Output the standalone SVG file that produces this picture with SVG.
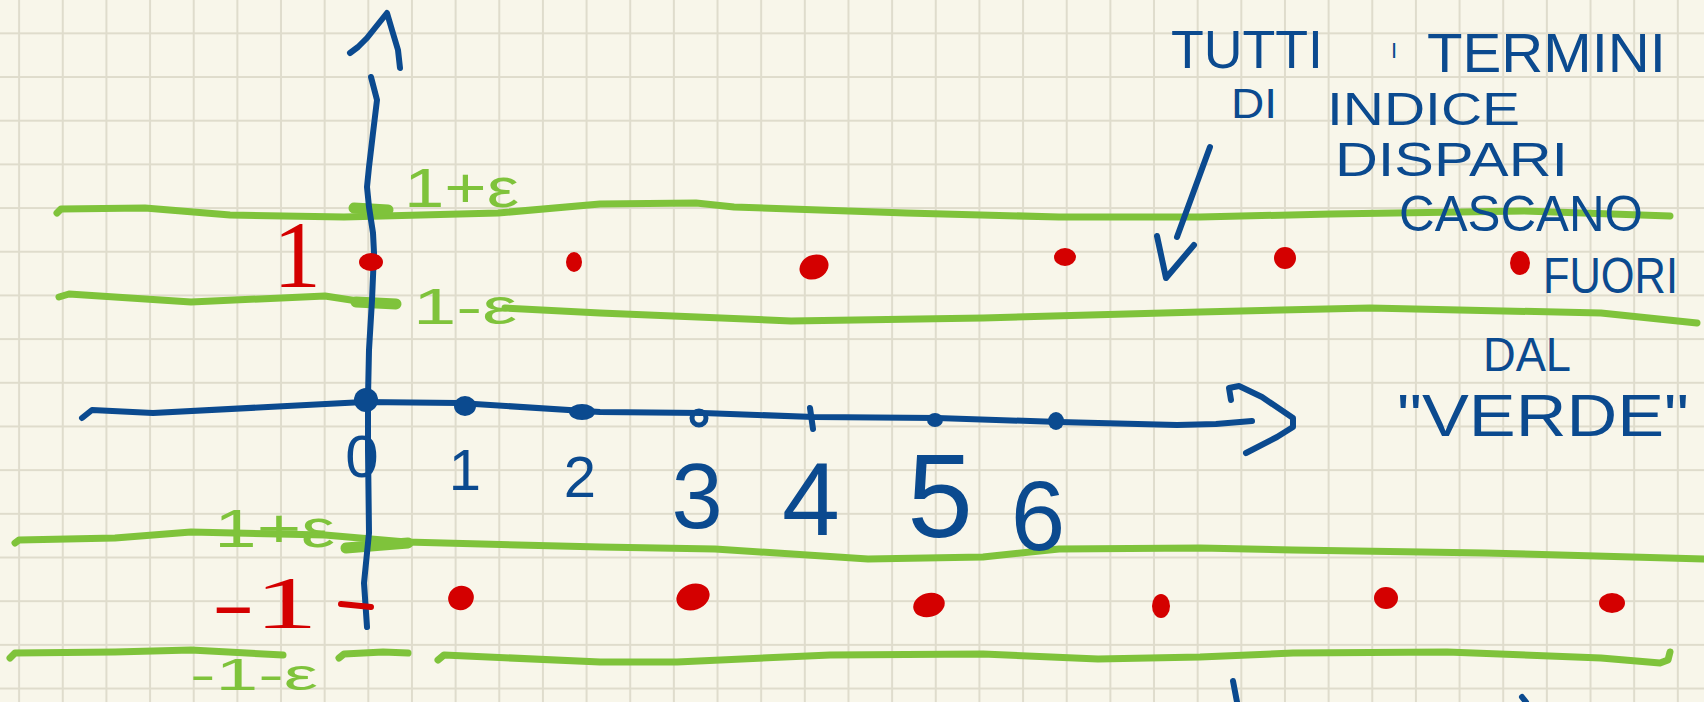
<svg xmlns="http://www.w3.org/2000/svg" width="1704" height="702" viewBox="0 0 1704 702">
<style>
.bl{fill:none;stroke:#0b4a8f;stroke-width:6;stroke-linecap:round;stroke-linejoin:round}
.gr{fill:none;stroke:#7fc33b;stroke-width:7;stroke-linecap:round;stroke-linejoin:round}
.grb{fill:none;stroke:#7fc33b;stroke-width:11;stroke-linecap:round}
.rd{fill:none;stroke:#d40000;stroke-width:6;stroke-linecap:round}
.rdot{fill:#d40000}
.bdot{fill:#0b4a8f}
.tb{fill:#0b4a8f;font-family:"Liberation Sans",Arial,sans-serif}
.tg{fill:#7fc33b;font-family:"Liberation Sans",Arial,sans-serif}
.tr{fill:#d40000;font-family:"Liberation Serif","Times New Roman",serif}
</style>
<defs>
<pattern id="grid" patternUnits="userSpaceOnUse" x="-2.7" y="11.5" width="43.65" height="43.68">
<path d="M21.8 0V43.68M0 21.8H43.65" stroke="#dfdccc" stroke-width="2" fill="none"/>
</pattern>
</defs>
<rect width="1704" height="702" fill="#f8f6ea"/>
<rect width="1704" height="702" fill="url(#grid)"/>

<g id="green-lines">
<path class="gr" d="M57,213 L61,209 L145,208 L230,215 L344,217 L498,213 L600,204 L696,203 L734,207 L906,213 L1059,217 L1200,217 L1331,214 L1524,211 L1670,216"/>
<path class="grb" d="M354,208 L388,210"/>
<path class="gr" d="M59,297 L69,294 L191,302 L325,296 L364,302 L394,303"/>
<path class="grb" d="M356,302 L396,304"/>
<path class="gr" d="M505,308 L600,313 L791,321 L983,318 L1200,312 L1370,308 L1601,313 L1697,323"/>
<path class="gr" d="M15,543 L19,540 L115,538 L191,532 L325,535 L406,542 L600,547 L715,549 L868,559 L983,557 L1059,549 L1200,548 L1293,550 L1485,553 L1704,559"/>
<path class="grb" d="M346,548 L408,543"/>
<path class="gr" d="M10,658 L15,653 L115,652 L191,650 L283,655"/>
<path class="gr" d="M339,658 L344,654 L383,652 L408,653"/>
<path class="gr" d="M438,660 L444,655 L600,662 L677,662 L830,655 L983,654 L1098,659 L1200,657 L1293,653 L1447,652 L1601,658 L1660,663 L1668,660 L1670,652"/>
</g>

<g id="axes">
<path class="bl" d="M371,77 L377,100 L373,133 L369,167 L367,187 L369,207 L373,233 L374,253 L372,300 L369,350 L368,397 L368,450 L369,533 L364,583 L367,627"/>
<path class="bl" d="M350,53 L358,47 L367,38 L387,13 L392,30 L398,50 L400,68"/>
<path class="bl" d="M82,418 L92,410 L153,413 L268,407 L364,402 L459,403 L600,412 L703,413 L814,417 L937,418 L1059,422 L1177,425 L1216,424 L1252,421"/>
<path class="bl" d="M1231,400 L1229,388 L1239,386 L1262,397 L1293,418 L1293,427 L1277,437 L1246,453"/>
</g>

<g id="ticks">
<ellipse class="bdot" cx="366" cy="400" rx="12" ry="12"/>
<ellipse class="bdot" cx="465" cy="406" rx="11" ry="10"/>
<ellipse class="bdot" cx="582" cy="412" rx="13" ry="8"/>
<ellipse cx="699" cy="418" rx="7" ry="7" fill="none" stroke="#0b4a8f" stroke-width="5"/>
<path class="bl" d="M810,408 L813,429"/>
<ellipse class="bdot" cx="935" cy="420" rx="8" ry="7"/>
<ellipse class="bdot" cx="1056" cy="421" rx="8" ry="9"/>
<path class="rd" d="M341,604 L371,607"/>
</g>

<g id="labels-x">
<text class="tb" x="362" y="477" font-size="60" text-anchor="middle">0</text>
<text class="tb" x="465" y="490" font-size="58" text-anchor="middle">1</text>
<text class="tb" x="580" y="497" font-size="58" text-anchor="middle">2</text>
<text class="tb" x="697" y="528" font-size="92" text-anchor="middle">3</text>
<text class="tb" x="811" y="535" font-size="104" text-anchor="middle">4</text>
<text class="tb" x="940" y="537" font-size="118" text-anchor="middle">5</text>
<text class="tb" x="1038" y="550" font-size="98" text-anchor="middle">6</text>
</g>

<g id="labels-green">
<text class="tg" x="404" y="207" font-size="56" textLength="115" lengthAdjust="spacingAndGlyphs">1+ε</text>
<text class="tg" x="413" y="324" font-size="50" textLength="104" lengthAdjust="spacingAndGlyphs">1-ε</text>
<text class="tg" x="189" y="547" font-size="54" textLength="146" lengthAdjust="spacingAndGlyphs">-1+ε</text>
<text class="tg" x="190" y="690" font-size="44" textLength="128" lengthAdjust="spacingAndGlyphs">-1-ε</text>
</g>

<g id="labels-red">
<text class="tr" x="297" y="287" font-size="96" text-anchor="middle">1</text>
<text class="tr" x="212" y="628" font-size="74" textLength="106" lengthAdjust="spacingAndGlyphs">-1</text>
</g>

<g id="dots-top">
<ellipse class="rdot" cx="371" cy="262" rx="12" ry="9"/>
<ellipse class="rdot" cx="574" cy="262" rx="8" ry="10"/>
<ellipse class="rdot" cx="814" cy="267" rx="15" ry="12" transform="rotate(-25 814 267)"/>
<ellipse class="rdot" cx="1065" cy="257" rx="11" ry="9"/>
<ellipse class="rdot" cx="1285" cy="258" rx="11" ry="11"/>
<ellipse class="rdot" cx="1520" cy="263" rx="10" ry="12"/>
</g>

<g id="dots-bottom">
<ellipse class="rdot" cx="461" cy="598" rx="13" ry="12" transform="rotate(-25 461 598)"/>
<ellipse class="rdot" cx="693" cy="597" rx="17" ry="13" transform="rotate(-20 693 597)"/>
<ellipse class="rdot" cx="929" cy="605" rx="16" ry="12" transform="rotate(-15 929 605)"/>
<ellipse class="rdot" cx="1161" cy="606" rx="9" ry="12"/>
<ellipse class="rdot" cx="1386" cy="598" rx="12" ry="11"/>
<ellipse class="rdot" cx="1612" cy="603" rx="13" ry="10"/>
</g>

<g id="note">
<text class="tb" x="1171" y="68" font-size="54" textLength="152" lengthAdjust="spacingAndGlyphs">TUTTI</text>
<text class="tb" x="1391" y="58" font-size="22">I</text>
<text class="tb" x="1427" y="72" font-size="56" textLength="239" lengthAdjust="spacingAndGlyphs">TERMINI</text>
<text class="tb" x="1231" y="118" font-size="42" textLength="46" lengthAdjust="spacingAndGlyphs">DI</text>
<text class="tb" x="1327" y="125" font-size="46" textLength="193" lengthAdjust="spacingAndGlyphs">INDICE</text>
<text class="tb" x="1335" y="176" font-size="48" textLength="233" lengthAdjust="spacingAndGlyphs">DISPARI</text>
<text class="tb" x="1399" y="231" font-size="50" textLength="244" lengthAdjust="spacingAndGlyphs">CASCANO</text>
<text class="tb" x="1543" y="293" font-size="50" textLength="135" lengthAdjust="spacingAndGlyphs">FUORI</text>
<text class="tb" x="1483" y="371" font-size="48" textLength="88" lengthAdjust="spacingAndGlyphs">DAL</text>
<text class="tb" x="1397" y="436" font-size="60" textLength="292" lengthAdjust="spacingAndGlyphs">"VERDE"</text>
</g>

<g id="connectors">
<path class="bl" d="M1210,147 L1177,237"/>
<path class="bl" d="M1157,236 L1166,278 L1194,245"/>
<path class="bl" d="M1233,681 L1237,702"/>
<path class="bl" d="M1522,697 L1526,702"/>
</g>
</svg>
